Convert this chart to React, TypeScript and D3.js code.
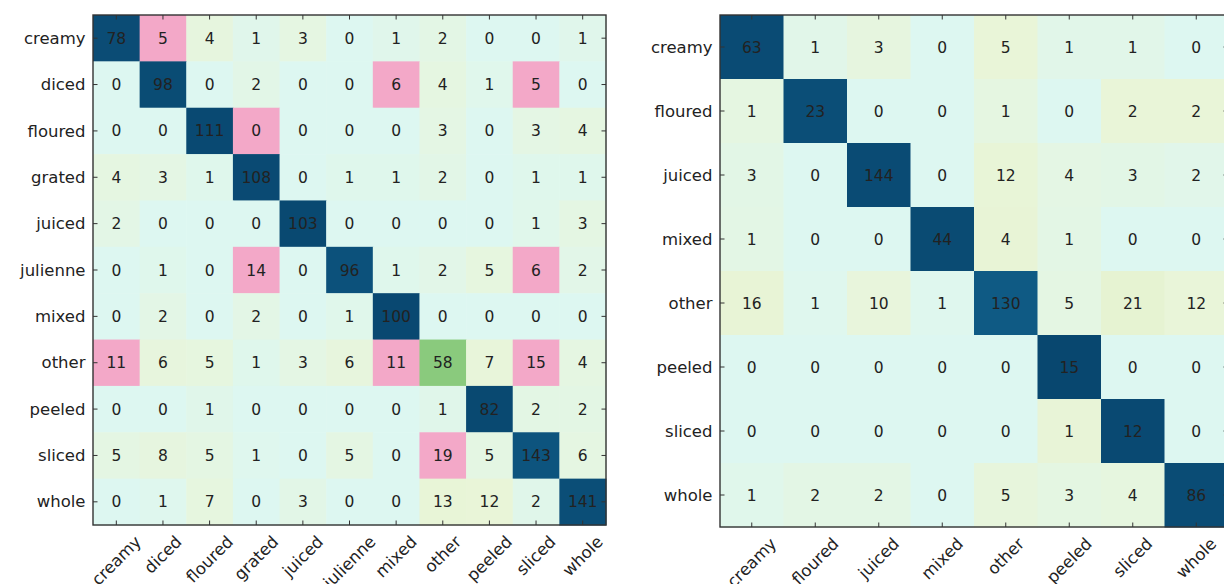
import React, { useEffect, useRef } from 'react';
import * as d3 from 'd3';

// Left confusion matrix: 11 preparation classes (rows = true, columns = predicted)
const leftClasses = ['creamy', 'diced', 'floured', 'grated', 'juiced', 'julienne', 'mixed', 'other', 'peeled', 'sliced', 'whole'];
const leftCounts = [
  [78, 5, 4, 1, 3, 0, 1, 2, 0, 0, 1],
  [0, 98, 0, 2, 0, 0, 6, 4, 1, 5, 0],
  [0, 0, 111, 0, 0, 0, 0, 3, 0, 3, 4],
  [4, 3, 1, 108, 0, 1, 1, 2, 0, 1, 1],
  [2, 0, 0, 0, 103, 0, 0, 0, 0, 1, 3],
  [0, 1, 0, 14, 0, 96, 1, 2, 5, 6, 2],
  [0, 2, 0, 2, 0, 1, 100, 0, 0, 0, 0],
  [11, 6, 5, 1, 3, 6, 11, 58, 7, 15, 4],
  [0, 0, 1, 0, 0, 0, 0, 1, 82, 2, 2],
  [5, 8, 5, 1, 0, 5, 0, 19, 5, 143, 6],
  [0, 1, 7, 0, 3, 0, 0, 13, 12, 2, 141],
];
// Cells highlighted as notable confusions [true, predicted]
const leftFlagged: [string, string][] = [
  ['creamy', 'diced'],
  ['diced', 'mixed'],
  ['diced', 'sliced'],
  ['floured', 'grated'],
  ['julienne', 'grated'],
  ['julienne', 'sliced'],
  ['other', 'creamy'],
  ['other', 'mixed'],
  ['other', 'sliced'],
  ['sliced', 'other'],
];

// Right confusion matrix: 8 classes
const rightClasses = ['creamy', 'floured', 'juiced', 'mixed', 'other', 'peeled', 'sliced', 'whole'];
const rightCounts = [
  [63, 1, 3, 0, 5, 1, 1, 0],
  [1, 23, 0, 0, 1, 0, 2, 2],
  [3, 0, 144, 0, 12, 4, 3, 2],
  [1, 0, 0, 44, 4, 1, 0, 0],
  [16, 1, 10, 1, 130, 5, 21, 12],
  [0, 0, 0, 0, 0, 15, 0, 0],
  [0, 0, 0, 0, 0, 1, 12, 0],
  [1, 2, 2, 0, 5, 3, 4, 86],
];
const rightFlagged: [string, string][] = [];

const WIDTH = 1224;
const HEIGHT = 584;
const LABEL_FONT = 16.5;
const CELL_FONT = 15.5;
const FONT = '"DejaVu Sans", Verdana, sans-serif';
const INK = '#222';
const FRAME = '#333';
const FLAG_COLOR = '#f3a8c8';

// Row-normalised share -> fill
const shareColor = d3
  .scaleLinear<string>()
  .domain([0, 0.02, 0.06, 0.15, 0.46, 0.6, 0.8, 1])
  .range(['#ddf7f1', '#e3f6e5', '#e9f5d9', '#e4f2cc', '#89ca7c', '#11608b', '#0b4d76', '#08476f'])
  .clamp(true);

type Box = { x0: number; x1: number; y0: number; y1: number };

function drawMatrix(
  svg: d3.Selection<SVGSVGElement, unknown, null, undefined>,
  classes: string[],
  counts: number[][],
  flagged: [string, string][],
  box: Box
) {
  const g = svg.append('g');
  const x = d3.scaleBand<string>().domain(classes).range([box.x0, box.x1]);
  const y = d3.scaleBand<string>().domain(classes).range([box.y0, box.y1]);
  const flagSet = new Set(flagged.map(([r, c]) => `${r}|${c}`));

  const cells = classes.flatMap((row, i) => {
    const total = d3.sum(counts[i]);
    return classes.map((col, j) => ({ row, col, v: counts[i][j], p: total ? counts[i][j] / total : 0 }));
  });

  g.selectAll('rect.cell')
    .data(cells)
    .join('rect')
    .attr('class', 'cell')
    .attr('x', (d) => x(d.col)!)
    .attr('y', (d) => y(d.row)!)
    .attr('width', x.bandwidth() + 0.5)
    .attr('height', y.bandwidth() + 0.5)
    .attr('fill', (d) => (flagSet.has(`${d.row}|${d.col}`) ? FLAG_COLOR : shareColor(d.p)));

  g.selectAll('text.val')
    .data(cells)
    .join('text')
    .attr('class', 'val')
    .attr('x', (d) => x(d.col)! + x.bandwidth() / 2)
    .attr('y', (d) => y(d.row)! + y.bandwidth() / 2)
    .attr('dy', '0.36em')
    .attr('text-anchor', 'middle')
    .attr('font-family', FONT)
    .attr('font-size', CELL_FONT)
    .attr('fill', INK)
    .text((d) => String(d.v));

  // Frame
  g.append('rect')
    .attr('x', box.x0)
    .attr('y', box.y0)
    .attr('width', box.x1 - box.x0)
    .attr('height', box.y1 - box.y0)
    .attr('fill', 'none')
    .attr('stroke', FRAME)
    .attr('stroke-width', 1.4);

  // Inward ticks on all four sides
  const tl = 4.5;
  classes.forEach((c) => {
    const cx = x(c)! + x.bandwidth() / 2;
    const cy = y(c)! + y.bandwidth() / 2;
    const segs = [
      [cx, box.y0, cx, box.y0 + tl],
      [cx, box.y1, cx, box.y1 - tl],
      [box.x0, cy, box.x0 + tl, cy],
      [box.x1, cy, box.x1 - tl, cy],
    ];
    segs.forEach(([a, b, c2, d]) =>
      g.append('line').attr('x1', a).attr('y1', b).attr('x2', c2).attr('y2', d).attr('stroke', FRAME).attr('stroke-width', 1)
    );
  });

  // Row labels
  g.selectAll('text.ylab')
    .data(classes)
    .join('text')
    .attr('class', 'ylab')
    .attr('x', box.x0 - 7.5)
    .attr('y', (d) => y(d)! + y.bandwidth() / 2)
    .attr('dy', '0.34em')
    .attr('text-anchor', 'end')
    .attr('font-family', FONT)
    .attr('font-size', LABEL_FONT)
    .attr('fill', INK)
    .text((d) => d);

  // Column labels, rotated 45° and centred under each tick
  const top = box.y1 + 7;
  const lineH = LABEL_FONT * 1.165;
  classes.forEach((c) => {
    const cx = x(c)! + x.bandwidth() / 2;
    const t = g
      .append('text')
      .attr('text-anchor', 'middle')
      .attr('font-family', FONT)
      .attr('font-size', LABEL_FONT)
      .attr('fill', INK)
      .text(c);
    const w = (t.node() as SVGTextElement).getComputedTextLength();
    const half = (w + lineH) / (2 * Math.SQRT2);
    const cy = top + half;
    t.attr('x', cx).attr('y', cy).attr('dy', '0.34em').attr('transform', `rotate(-45 ${cx} ${cy})`);
  });
}

export default function App() {
  const ref = useRef<SVGSVGElement | null>(null);

  useEffect(() => {
    if (!ref.current) return;
    const svg = d3.select(ref.current);
    svg.selectAll('*').remove();
    svg.append('rect').attr('width', WIDTH).attr('height', HEIGHT).attr('fill', '#fff');
    drawMatrix(svg, leftClasses, leftCounts, leftFlagged, { x0: 93, x1: 606, y0: 15, y1: 525 });
    drawMatrix(svg, rightClasses, rightCounts, rightFlagged, { x0: 720, x1: 1228, y0: 15, y1: 527 });
  }, []);

  return (
    <svg
      ref={ref}
      width={WIDTH}
      height={HEIGHT}
      style={{ position: 'absolute', left: 0, top: 0, display: 'block' }}
    />
  );
}
